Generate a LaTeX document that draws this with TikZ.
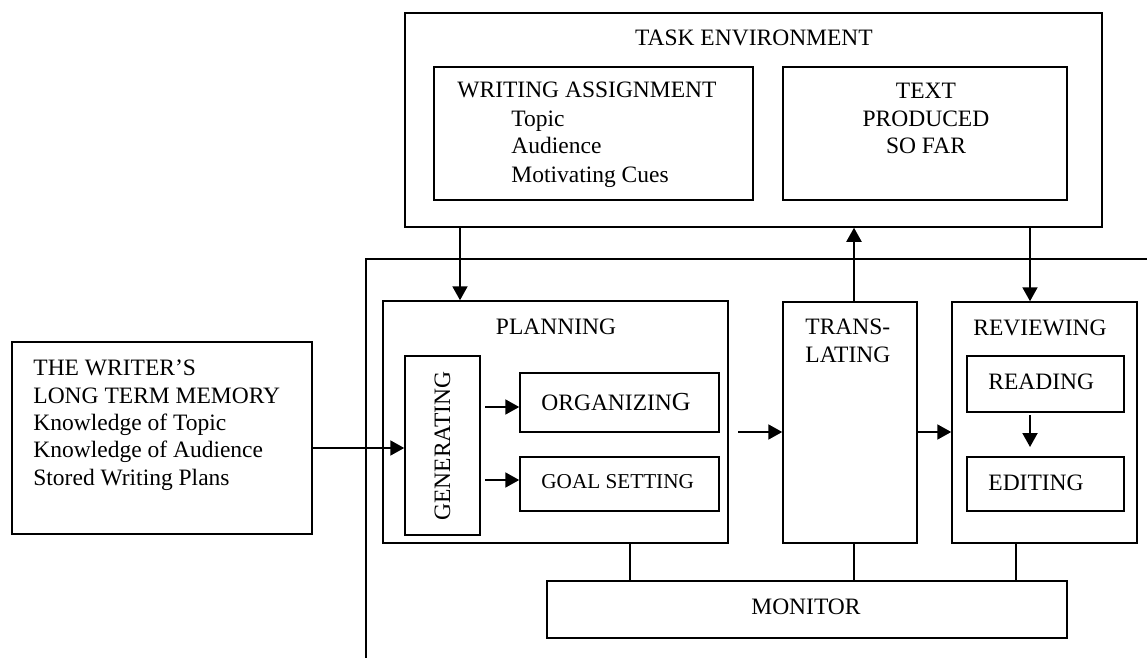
\documentclass[tikz,border=0pt]{standalone}
\usepackage{fontspec}
\setmainfont{Liberation Serif}
\usetikzlibrary{arrows.meta}
\begin{document}
\begin{tikzpicture}[x=0.5pt,y=-0.5pt,
  box/.style={draw,line width=0.75pt,rectangle,inner sep=0pt},
  arr/.style={line width=1pt,-{Triangle[length=7pt,width=7.5pt]}},
  thin line/.style={line width=0.7pt},
  lbl/.style={inner sep=0pt,font=\fontsize{11.75}{14}\selectfont},
  small lbl/.style={inner sep=0pt,font=\fontsize{10.6}{13}\selectfont}]
\useasboundingbox (0,0) rectangle (1147,658);
% boxes
\node[box,minimum width=348.5pt,minimum height=107pt] (taskenv) at (753.5,120) {};
\node[box,minimum width=159.5pt,minimum height=66.5pt] (assign) at (593.5,133.5) {};
\node[box,minimum width=142pt,minimum height=66.5pt] (produced) at (925,133.5) {};
\node[box,minimum width=150pt,minimum height=96pt] (ltm) at (162,438) {};
\node[box,minimum width=172.5pt,minimum height=121pt] (planning) at (555.5,422) {};
\node[box,minimum width=37.5pt,minimum height=89.5pt] (generating) at (442.5,445.5) {};
\node[box,minimum width=99.5pt,minimum height=29.5pt] (organizing) at (619.5,402.5) {};
\node[box,minimum width=99.5pt,minimum height=27pt] (goal) at (619.5,484) {};
\node[box,minimum width=67pt,minimum height=120.5pt] (translating) at (850,422.5) {};
\node[box,minimum width=92.5pt,minimum height=120.5pt] (reviewing) at (1044.5,422.5) {};
\node[box,minimum width=78.5pt,minimum height=28pt] (reading) at (1045.5,384) {};
\node[box,minimum width=78.5pt,minimum height=27pt] (editing) at (1045.5,484) {};
\node[box,minimum width=260pt,minimum height=28.5pt] (monitor) at (807,609.5) {};
% outer open frame
\coordinate (fr1) at (366,658);
\coordinate (fr2) at (366,259);
\coordinate (fr3) at (1147,259);
\draw[thin line] (fr1) -- (fr2) -- (fr3);
% texts
\node[lbl,anchor=base] (tTask) at (754,46) {TASK ENVIRONMENT};
\node[lbl,anchor=base west] (tAssign) at (457,98) {WRITING ASSIGNMENT};
\node[lbl,anchor=base west] (tTopic) at (511,127) {Topic};
\node[lbl,anchor=base west] (tAud) at (511,154) {Audience};
\node[lbl,anchor=base west] (tCues) at (511,183) {Motivating Cues};
\node[lbl,anchor=base] (tText) at (926,99) {TEXT};
\node[lbl,anchor=base] (tProd) at (926,127) {PRODUCED};
\node[lbl,anchor=base] (tSoFar) at (926,154) {SO FAR};
\node[lbl,anchor=base west] (tL1) at (33,375) {THE WRITER’S};
\node[lbl,anchor=base west] (tL2) at (33,403) {LONG TERM MEMORY};
\node[lbl,anchor=base west] (tL3) at (33,430) {Knowledge of Topic};
\node[lbl,anchor=base west] (tL4) at (33,457) {Knowledge of Audience};
\node[lbl,anchor=base west] (tL5) at (33,485) {Stored Writing Plans};
\node[lbl,anchor=base] (tPlan) at (556,334) {PLANNING};
\node[lbl,anchor=base west,rotate=90] (tGen) at (450,521) {GENERATING};
\node[lbl,anchor=base west] (tOrg) at (541,410) {ORGANIZIN{\fontsize{13}{14}\selectfont G}};
\node[small lbl,anchor=base west] (tGoal) at (541,488) {GOAL SETTING};
\node[lbl,anchor=base west] (tTrans) at (805,334) {TRANS-};
\node[lbl,anchor=base west] (tLating) at (805,362) {LATING};
\node[lbl,anchor=base] (tRev) at (1040,335) {REVIEWING};
\node[lbl,anchor=base west] (tRead) at (988,389) {READING};
\node[lbl,anchor=base west] (tEdit) at (988,490) {EDITING};
\node[lbl,anchor=base] (tMon) at (806,614) {MONITOR};
% helper coordinates
\coordinate (a1) at (460,0);
\coordinate (a2) at (854,0);
\coordinate (a3) at (1030,0);
\coordinate (a4) at (0,448);
\coordinate (a5) at (485,407);
\coordinate (a6) at (485,480);
\coordinate (a7) at (738,432);
\coordinate (a8) at (1030,415);
\coordinate (a9) at (1030,447);
\coordinate (m1) at (630,0);
\coordinate (m3) at (1016,0);
% arrows
\draw[arr] (taskenv.south -| a1) -- (planning.north -| a1);
\draw[arr] (translating.north -| a2) -- (taskenv.south -| a2);
\draw[arr] (taskenv.south -| a3) -- (reviewing.north -| a3);
\draw[arr] (ltm.east |- a4) -- (generating.west |- a4);
\draw[arr] (a5) -- (organizing.west |- a5);
\draw[arr] (a6) -- (goal.west |- a6);
\draw[arr] (a7) -- (translating.west |- a7);
\draw[arr] (translating.east |- a7) -- (reviewing.west |- a7);
\draw[arr] (a8) -- (a9);
% monitor links
\draw[thin line] (planning.south -| m1) -- (monitor.north -| m1);
\draw[thin line] (translating.south -| a2) -- (monitor.north -| a2);
\draw[thin line] (reviewing.south -| m3) -- (monitor.north -| m3);
\end{tikzpicture}
\end{document}
